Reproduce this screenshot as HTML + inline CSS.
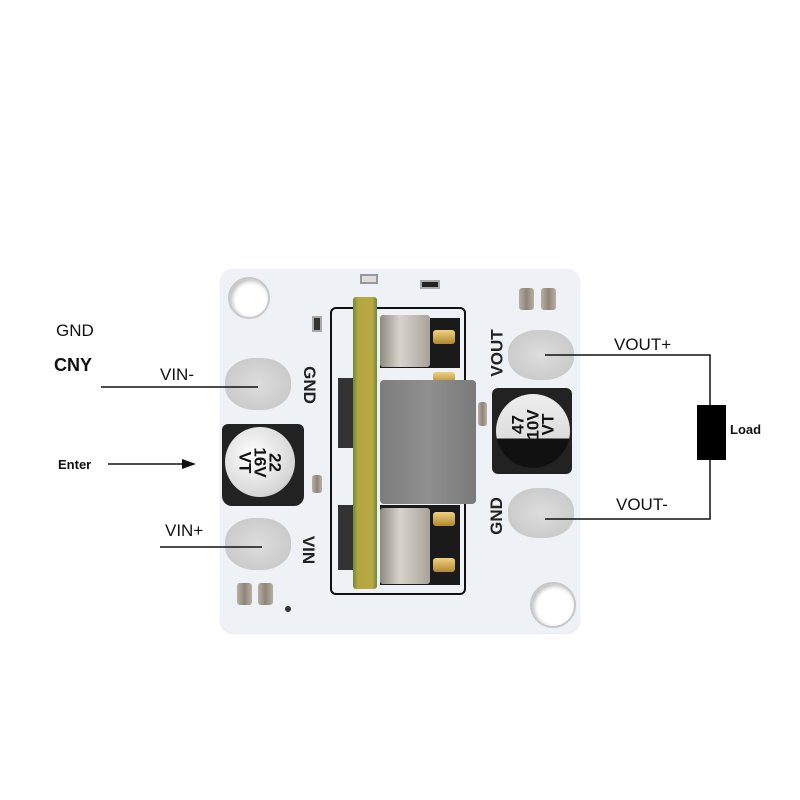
<!DOCTYPE html>
<html><head><meta charset="utf-8"><style>
*{margin:0;padding:0;box-sizing:border-box}
body{width:800px;height:800px;background:#fff;position:relative;overflow:hidden;font-family:"Liberation Sans",sans-serif}
.a{position:absolute}
.board{left:221px;top:270px;width:358px;height:363px;background:#eef1f5;border-radius:12px;box-shadow:0 0 2px #ccd}
.hole{border-radius:50%;background:#fff;border:2px solid #c8c8c8;box-shadow:inset 2px 2px 4px #bbb}
.pad{border-radius:45%;background:radial-gradient(#ddd,#c4c4c4);}
.sil{background:linear-gradient(90deg,#8f8a80,#d8d4cc 40%,#a8a39a);border-radius:3px}
.smd{background:linear-gradient(90deg,#b9b0a4,#8e8478 50%,#b9b0a4);border-radius:3px}
.gold{background:linear-gradient(#f0d080,#b08a30);border-radius:3px}
.rot{font-weight:bold;font-size:17px;color:#222;white-space:nowrap}
</style></head><body>
<div class="a board"></div>
<div class="a hole" style="left:228px;top:277px;width:42px;height:42px"></div>
<div class="a hole" style="left:530px;top:582px;width:46px;height:46px"></div>
<div class="a pad" style="left:225px;top:358px;width:66px;height:52px"></div>
<div class="a pad" style="left:225px;top:518px;width:66px;height:52px"></div>
<div class="a pad" style="left:508px;top:330px;width:66px;height:50px"></div>
<div class="a pad" style="left:508px;top:488px;width:66px;height:50px"></div>
<!-- small parts -->
<div class="a smd" style="left:519px;top:288px;width:15px;height:22px"></div>
<div class="a smd" style="left:541px;top:288px;width:15px;height:22px"></div>
<div class="a smd" style="left:237px;top:583px;width:15px;height:22px"></div>
<div class="a smd" style="left:258px;top:583px;width:15px;height:22px"></div>
<div class="a" style="left:312px;top:316px;width:10px;height:16px;background:#333;border:2px solid #aaa"></div>
<div class="a smd" style="left:312px;top:475px;width:10px;height:18px"></div>
<div class="a" style="left:360px;top:274px;width:18px;height:10px;background:#ddd;border:2px solid #999"></div>
<div class="a" style="left:420px;top:280px;width:20px;height:9px;background:#222;border:2px solid #aaa"></div>
<div class="a" style="left:285px;top:606px;width:6px;height:6px;border-radius:50%;background:#333"></div>
<!-- module outline -->
<div class="a" style="left:330px;top:307px;width:136px;height:288px;border:2px solid #111;border-radius:6px"></div>
<div class="a" style="left:380px;top:318px;width:80px;height:50px;background:#1a1a1a"></div>
<div class="a" style="left:380px;top:505px;width:80px;height:80px;background:#1a1a1a"></div>
<div class="a" style="left:338px;top:378px;width:16px;height:70px;background:#333"></div>
<div class="a" style="left:338px;top:505px;width:16px;height:65px;background:#333"></div>
<div class="a sil" style="left:380px;top:315px;width:50px;height:52px"></div>
<div class="a sil" style="left:380px;top:508px;width:50px;height:76px"></div>
<div class="a gold" style="left:433px;top:330px;width:22px;height:14px"></div>
<div class="a gold" style="left:433px;top:372px;width:22px;height:12px"></div>
<div class="a gold" style="left:433px;top:512px;width:22px;height:14px"></div>
<div class="a gold" style="left:433px;top:558px;width:22px;height:14px"></div>
<div class="a" style="left:353px;top:297px;width:24px;height:292px;background:linear-gradient(90deg,#6b8a3a,#b5a640 20%,#b9a843 80%,#6b8a3a);border-radius:3px"></div>
<div class="a" style="left:380px;top:380px;width:96px;height:124px;background:linear-gradient(90deg,#7d7d7d,#8f8f8f 50%,#7a7a7a);border-radius:4px"></div>
<div class="a smd" style="left:478px;top:402px;width:9px;height:24px"></div>
<!-- caps -->
<div class="a" style="left:222px;top:424px;width:82px;height:82px;background:#222;border-radius:6px 6px 10px 10px"></div>
<div class="a" style="left:225px;top:427px;width:70px;height:70px;border-radius:50%;background:radial-gradient(circle at 40% 40%,#fff,#d6d6d6 70%,#999);display:flex;align-items:center;justify-content:center;color:#111;font-weight:bold;font-size:17px;line-height:15px;text-align:center"><div style="transform:rotate(90deg)">22<br>16V<br>VT</div></div>
<div class="a" style="left:492px;top:388px;width:80px;height:86px;background:#222;border-radius:6px"></div>
<div class="a" style="left:496px;top:394px;width:74px;height:74px;border-radius:50%;background:linear-gradient(180deg,#eee 0%,#ddd 60%,#111 60%,#111 100%);display:flex;align-items:flex-start;justify-content:center;color:#111;font-weight:bold;font-size:17px;line-height:15px;text-align:center"><div style="transform:rotate(-90deg);margin-top:8px">47<br>10V<br>VT</div></div>
<!-- silk labels -->
<div class="a rot" style="left:290px;top:375px;transform:rotate(90deg)">GND</div>
<div class="a rot" style="left:294px;top:540px;transform:rotate(90deg)">VIN</div>
<div class="a rot" style="left:474px;top:343px;transform:rotate(-90deg)">VOUT</div>
<div class="a rot" style="left:478px;top:506px;transform:rotate(-90deg)">GND</div>
<svg class="a" style="left:0;top:0" width="800" height="800">
<g font-family="Liberation Sans, sans-serif" fill="#111">
<text x="56" y="336" font-size="17">GND</text>
<text x="54" y="371" font-size="18" font-weight="bold">CNY</text>
<text x="160" y="380" font-size="17">VIN-</text>
<text x="58" y="469" font-size="13" font-weight="bold">Enter</text>
<text x="165" y="536" font-size="17">VIN+</text>
<text x="614" y="350" font-size="17">VOUT+</text>
<text x="616" y="510" font-size="17">VOUT-</text>
<text x="730" y="434" font-size="13" font-weight="bold">Load</text>
</g>
<g stroke="#111" stroke-width="1.5" fill="none">
<line x1="101" y1="387" x2="258" y2="387"/>
<line x1="160" y1="547" x2="262" y2="547"/>
<line x1="108" y1="464" x2="185" y2="464"/>
<polyline points="545,355 710,355 710,405"/>
<polyline points="545,519 710,519 710,460"/>
</g>
<polygon points="196,464 182,459 182,469" fill="#111"/>
<rect x="697" y="405" width="29" height="55" fill="#000"/>
</svg>
</body></html>
